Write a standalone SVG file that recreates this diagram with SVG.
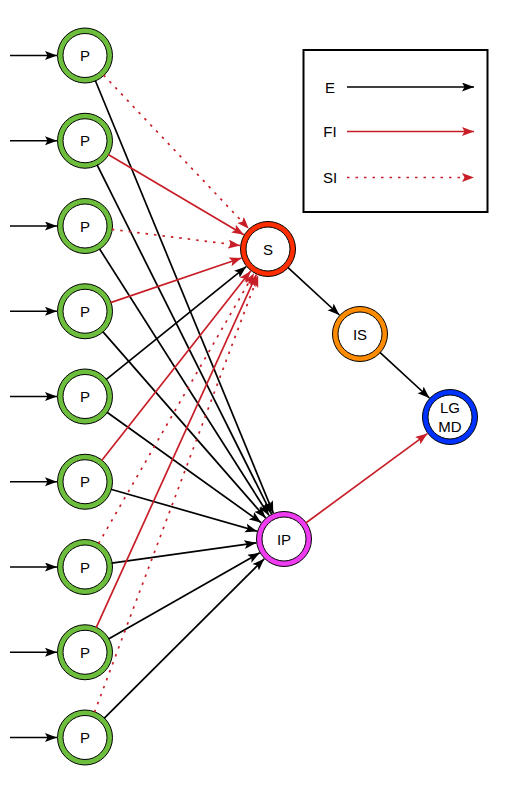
<svg xmlns="http://www.w3.org/2000/svg" width="516" height="797" viewBox="0 0 516 797">
<defs>
<style>
.ring{stroke:#000;stroke-width:1}
.in{fill:#fff;stroke:#000;stroke-width:1}
.lbl{font-family:"Liberation Sans",Arial,sans-serif;font-size:15px;fill:#000;text-anchor:middle}
.e{stroke:#000;stroke-width:1.7;fill:none;marker-end:url(#ab)}
.fi{stroke:#C81E28;stroke-width:1.7;fill:none;marker-end:url(#ar)}
.si{stroke:#C81E28;stroke-width:1.7;fill:none;stroke-dasharray:2.5 6;marker-end:url(#ar)}
</style>
<marker id="ab" markerUnits="userSpaceOnUse" markerWidth="13" markerHeight="10" refX="12" refY="4.5" orient="auto"><path d="M0,0 L12,4.5 L0,9 L2.5,4.5 z" fill="#000"/></marker>
<marker id="ar" markerUnits="userSpaceOnUse" markerWidth="13" markerHeight="10" refX="12" refY="4.5" orient="auto"><path d="M0,0 L12,4.5 L0,9 L2.5,4.5 z" fill="#C81E28"/></marker>
</defs>
<rect width="516" height="797" fill="#fff"/>

<g id="legend">
<rect x="303.5" y="50" width="184" height="162" fill="#fff" stroke="#000" stroke-width="2"/>
<text class="lbl" x="330" y="92.5">E</text>
<text class="lbl" x="330" y="137">FI</text>
<text class="lbl" x="330" y="183">SI</text>
<line class="e" x1="347" y1="87" x2="474" y2="87"/>
<line class="fi" x1="347" y1="131.5" x2="474" y2="131.5"/>
<line class="si" x1="347" y1="177.5" x2="474" y2="177.5"/>
</g>

<g id="P1"><circle class="ring" cx="85" cy="55.5" r="27.5" fill="#6CBE3C"/><circle class="in" cx="85" cy="55.5" r="22"/><text class="lbl" x="85" y="61">P</text></g>
<g id="P2"><circle class="ring" cx="85" cy="140.75" r="27.5" fill="#6CBE3C"/><circle class="in" cx="85" cy="140.75" r="22"/><text class="lbl" x="85" y="146.25">P</text></g>
<g id="P3"><circle class="ring" cx="85" cy="226" r="27.5" fill="#6CBE3C"/><circle class="in" cx="85" cy="226" r="22"/><text class="lbl" x="85" y="231.5">P</text></g>
<g id="P4"><circle class="ring" cx="85" cy="311.25" r="27.5" fill="#6CBE3C"/><circle class="in" cx="85" cy="311.25" r="22"/><text class="lbl" x="85" y="316.75">P</text></g>
<g id="P5"><circle class="ring" cx="85" cy="396.5" r="27.5" fill="#6CBE3C"/><circle class="in" cx="85" cy="396.5" r="22"/><text class="lbl" x="85" y="402">P</text></g>
<g id="P6"><circle class="ring" cx="85" cy="481.75" r="27.5" fill="#6CBE3C"/><circle class="in" cx="85" cy="481.75" r="22"/><text class="lbl" x="85" y="487.25">P</text></g>
<g id="P7"><circle class="ring" cx="85" cy="567" r="27.5" fill="#6CBE3C"/><circle class="in" cx="85" cy="567" r="22"/><text class="lbl" x="85" y="572.5">P</text></g>
<g id="P8"><circle class="ring" cx="85" cy="652.25" r="27.5" fill="#6CBE3C"/><circle class="in" cx="85" cy="652.25" r="22"/><text class="lbl" x="85" y="657.75">P</text></g>
<g id="P9"><circle class="ring" cx="85" cy="737.5" r="27.5" fill="#6CBE3C"/><circle class="in" cx="85" cy="737.5" r="22"/><text class="lbl" x="85" y="743">P</text></g>

<g id="S"><circle class="ring" cx="268" cy="249" r="27.5" fill="#FF2E00"/><circle class="in" cx="268" cy="249" r="22"/><text class="lbl" x="268" y="254.5">S</text></g>
<g id="IS"><circle class="ring" cx="360" cy="334" r="27.5" fill="#FF8C00"/><circle class="in" cx="360" cy="334" r="22"/><text class="lbl" x="360" y="339.5">IS</text></g>
<g id="LGMD"><circle class="ring" cx="450" cy="417" r="27.5" fill="#0033FF"/><circle class="in" cx="450" cy="417" r="22"/><text class="lbl" x="450" y="413">LG</text><text class="lbl" x="450" y="432">MD</text></g>
<g id="IP"><circle class="ring" cx="284" cy="539" r="27.5" fill="#F03CF0"/><circle class="in" cx="284" cy="539" r="22"/><text class="lbl" x="284" y="544.5">IP</text></g>

<g id="connectors">
<line class="e" x1="10" y1="55.5" x2="57" y2="55.5"/>
<line class="e" x1="10" y1="140.75" x2="57" y2="140.75"/>
<line class="e" x1="10" y1="226" x2="57" y2="226"/>
<line class="e" x1="10" y1="311.25" x2="57" y2="311.25"/>
<line class="e" x1="10" y1="396.5" x2="57" y2="396.5"/>
<line class="e" x1="10" y1="481.75" x2="57" y2="481.75"/>
<line class="e" x1="10" y1="567" x2="57" y2="567"/>
<line class="e" x1="10" y1="652.25" x2="57" y2="652.25"/>
<line class="e" x1="10" y1="737.5" x2="57" y2="737.5"/>

<line class="e" x1="95.3" y1="80.5" x2="273.3" y2="513.1"/>
<line class="e" x1="97.1" y1="164.9" x2="271.5" y2="514.0"/>
<line class="e" x1="99.5" y1="248.8" x2="269.0" y2="515.4"/>
<line class="e" x1="102.8" y1="331.6" x2="265.6" y2="517.9"/>
<line class="e" x1="107.0" y1="412.2" x2="261.2" y2="522.7"/>
<line class="e" x1="110.9" y1="489.2" x2="257.1" y2="531.3"/>
<line class="e" x1="111.7" y1="563.2" x2="256.3" y2="542.9"/>
<line class="e" x1="108.5" y1="638.9" x2="259.7" y2="552.8"/>
<line class="e" x1="104.1" y1="718.4" x2="264.2" y2="558.8"/>

<line class="si" x1="103.6" y1="75.1" x2="248.8" y2="228.7"/>
<line class="fi" x1="108.2" y1="154.5" x2="243.9" y2="234.7"/>
<line class="si" x1="111.8" y1="229.4" x2="240.2" y2="245.5"/>
<line class="fi" x1="110.6" y1="302.6" x2="241.5" y2="258.0"/>
<line class="e" x1="106.0" y1="379.6" x2="246.2" y2="266.6"/>
<line class="fi" x1="101.7" y1="460.5" x2="250.7" y2="271.0"/>
<line class="si" x1="98.5" y1="543.6" x2="254.0" y2="273.3"/>
<line class="fi" x1="96.2" y1="627.7" x2="256.4" y2="274.5"/>
<line class="si" x1="94.5" y1="712.2" x2="258.2" y2="275.2"/>

<line class="e" x1="287.8" y1="267.3" x2="339.4" y2="315.0"/>
<line class="e" x1="379.9" y1="352.3" x2="429.4" y2="398.0"/>
<line class="fi" x1="305.8" y1="523.0" x2="427.4" y2="433.6"/>
</g>
</svg>
